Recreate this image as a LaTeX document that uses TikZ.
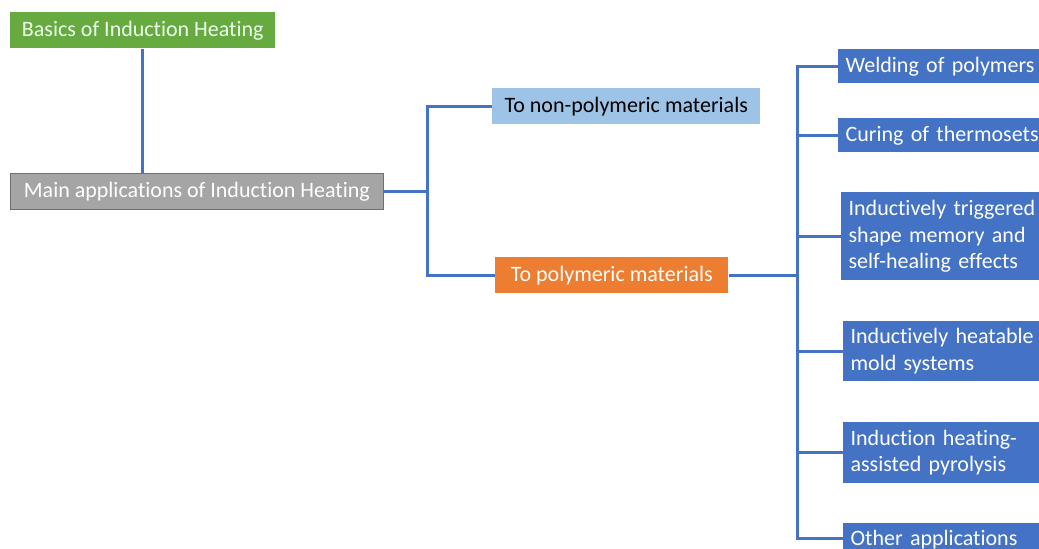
\documentclass[tikz,border=0pt]{standalone}
\usepackage{fontspec}
\setmainfont{Carlito}[Ligatures={NoCommon}]
\definecolor{lineblue}{HTML}{4472C4}
\definecolor{boxblue}{HTML}{4472C4}
\definecolor{lightblue}{HTML}{9DC3E6}
\definecolor{orangeb}{HTML}{ED7D31}
\definecolor{greenb}{HTML}{67AB40}
\definecolor{grayb}{HTML}{A5A5A5}
\definecolor{grayd}{HTML}{6F6F6F}
\begin{document}
\begin{tikzpicture}[x=0.75pt,y=-0.75pt,
  box/.style={rectangle, anchor=north west, inner sep=0pt, font=\fontsize{16.5}{20}\selectfont},
  leaf/.style={box, fill=boxblue, text=white, text width=186pt, inner xsep=5.5pt, align=left},
  conn/.style={draw=lineblue, line width=2.25pt}]
\useasboundingbox (0,0) rectangle (1039,549);
\clip (0,0) rectangle (1039,549);
\node[box, fill=greenb, text=white!92!green, minimum width=198.75pt, minimum height=27pt] (basics) at (10,12) {Basics of Induction Heating};
\node[box, fill=grayb, draw=grayd, line width=0.6pt, text=white, minimum width=279.75pt, minimum height=27pt] (main) at (10,173) {Main applications of Induction Heating};
\node[box, fill=lightblue, text=black, minimum width=201pt, minimum height=27pt] (nonpoly) at (492,88) {To non-polymeric materials};
\node[box, fill=orangeb, text=white, minimum width=174.75pt, minimum height=27pt] (poly) at (495,257) {To polymeric materials};
\node[leaf, minimum height=25.5pt] (weld) at (838,49) {Welding of polymers};
\node[leaf, minimum height=25.5pt] (cure) at (838,118) {Curing of thermosets};
\node[leaf, minimum height=66pt] (trig) at (841,192) {Inductively triggered\\shape memory and\\self-healing effects};
\node[leaf, minimum height=45pt] (heat) at (843,321) {Inductively heatable\\mold systems};
\node[leaf, minimum height=45.75pt] (pyro) at (843,422) {Induction heating-\\assisted pyrolysis};
\node[leaf, minimum height=24pt] (other) at (843,523) {Other applications};
\coordinate (b1) at (427,0);
\coordinate (b2) at (797,0);
\coordinate (bot) at (797,538);
\draw[conn] (basics.south) -- (basics.south |- main.north);
\draw[conn] (main.east) -- (b1 |- main.east);
\draw[conn] (nonpoly.west) -| (b1 |- main.east) |- (poly.west);
\draw[conn] (poly.east) -- (b2 |- poly.east);
\draw[conn] (weld.west) -| (bot) -- (other.west |- bot);
\draw[conn] (b2 |- cure.west) -- (cure.west);
\draw[conn] (b2 |- trig.west) -- (trig.west);
\draw[conn] (b2 |- heat.west) -- (heat.west);
\draw[conn] (b2 |- pyro.west) -- (pyro.west);
\end{tikzpicture}
\end{document}
